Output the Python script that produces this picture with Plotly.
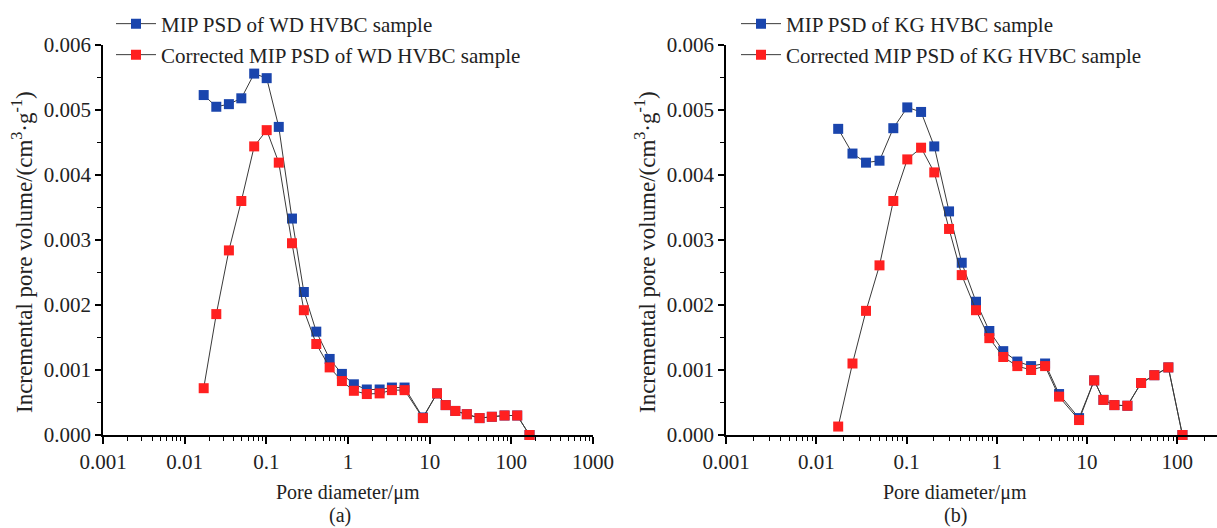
import plotly.graph_objects as go

# ---------------- data ----------------
diam_wd = [0.0171, 0.0244, 0.0348, 0.0494, 0.071, 0.101, 0.142, 0.206, 0.288, 0.409,
           0.596, 0.842, 1.18, 1.70, 2.44, 3.45, 4.93, 8.26,
           12.3, 15.7, 20.6, 28.5, 40.8, 57.7, 82.6, 118, 167]
mip_wd = [0.00523, 0.00505, 0.00509, 0.00518, 0.00556, 0.00549, 0.00474, 0.00333, 0.00220, 0.00159,
          0.00117, 0.00094, 0.00078, 0.00070, 0.00070, 0.00073, 0.00073, 0.00027,
          0.00064, 0.00046, 0.00037, 0.00032, 0.00026, 0.00028, 0.00030, 0.00030, 0.0]
corr_wd = [0.00072, 0.00186, 0.00284, 0.00360, 0.00444, 0.00469, 0.00419, 0.00295, 0.00192, 0.00140,
           0.00104, 0.00083, 0.00068, 0.00063, 0.00064, 0.00069, 0.00069, 0.00026,
           0.00064, 0.00046, 0.00037, 0.00032, 0.00026, 0.00028, 0.00030, 0.00030, 0.0]

diam_kg = [0.0175, 0.0252, 0.0356, 0.0502, 0.0714, 0.102, 0.145, 0.203, 0.296, 0.409,
           0.589, 0.827, 1.18, 1.69, 2.40, 3.43, 4.90, 8.16,
           12.0, 15.2, 20.1, 28.0, 39.7, 55.7, 79.6, 114]
mip_kg = [0.00471, 0.00433, 0.00419, 0.00422, 0.00472, 0.00504, 0.00497, 0.00444, 0.00344, 0.00265,
          0.00205, 0.00160, 0.00129, 0.00113, 0.00106, 0.00110, 0.00063, 0.00026,
          0.00084, 0.00054, 0.00046, 0.00045, 0.00080, 0.00092, 0.00104, 0.0]
corr_kg = [0.00013, 0.00110, 0.00191, 0.00261, 0.00360, 0.00424, 0.00442, 0.00404, 0.00317, 0.00246,
           0.00192, 0.00149, 0.00120, 0.00106, 0.00100, 0.00106, 0.00059, 0.00023,
           0.00084, 0.00054, 0.00046, 0.00045, 0.00080, 0.00092, 0.00104, 0.0]

x_tick_vals = [0.001, 0.01, 0.1, 1, 10, 100, 1000]
x_tick_text = ["0.001", "0.01", "0.1", "1", "10", "100", "1000"]

names_wd = ["MIP PSD of WD HVBC sample", "Corrected MIP PSD of WD HVBC sample"]
names_kg = ["MIP PSD of KG HVBC sample", "Corrected MIP PSD of KG HVBC sample"]

# ---------------- styling ----------------
W, H = 1217, 528
FONT = "Liberation Serif"
TXT = "#222222"
BLUE = "#1a45ad"
RED = "#ff2020"
LINE = "#3a3a3a"

minor_x = [k * 10 ** d for d in range(-3, 3) for k in range(2, 10)]


def px_x(p):
    return p / W


def px_y(p):
    return 1 - p / H


fig = go.Figure()


def add(x, y, name, color, xa, ya, legend):
    fig.add_trace(go.Scatter(
        x=x, y=y, name=name, mode="lines+markers",
        line=dict(color=LINE, width=1),
        marker=dict(symbol="square", size=10, color=color, line=dict(width=0)),
        xaxis=xa, yaxis=ya, legend=legend, cliponaxis=False,
    ))


add(diam_wd, mip_wd, names_wd[0], BLUE, "x", "y", "legend")
add(diam_wd, corr_wd, names_wd[1], RED, "x", "y", "legend2")
add(diam_kg, mip_kg, names_kg[0], BLUE, "x2", "y2", "legend3")
add(diam_kg, corr_kg, names_kg[1], RED, "x2", "y2", "legend4")

y_dom = [px_y(435), px_y(45)]

xcommon = dict(
    type="log", showgrid=False, zeroline=False,
    showline=True, linecolor="black", linewidth=1.5,
    ticks="outside", ticklen=7, tickwidth=1.5, tickcolor="black",
    tickvals=x_tick_vals, ticktext=x_tick_text,
    tickfont=dict(family=FONT, size=21, color=TXT),
    minor=dict(tickvals=minor_x, ticks="outside", ticklen=4, tickwidth=1, tickcolor="black"),
)
ycommon = dict(
    range=[0, 0.006], showgrid=False, zeroline=False,
    showline=True, linecolor="black", linewidth=1.5,
    ticks="outside", ticklen=6, tickwidth=1.5, tickcolor="black",
    tickvals=[0, 0.001, 0.002, 0.003, 0.004, 0.005, 0.006], tickformat=".3f",
    tickfont=dict(family=FONT, size=21, color=TXT),
    minor=dict(dtick=0.0005, ticks="outside", ticklen=4, tickwidth=1, tickcolor="black"),
    domain=y_dom,
)


def leg(xp, yp):
    return dict(x=px_x(xp), y=px_y(yp), xanchor="left", yanchor="middle",
                bgcolor="rgba(0,0,0,0)", font=dict(family=FONT, size=21, color=TXT),
                itemwidth=40, tracegroupgap=0)


fig.update_layout(
    width=W, height=H,
    margin=dict(l=0, r=0, t=0, b=0, autoexpand=False),
    paper_bgcolor="white", plot_bgcolor="white",
    font=dict(family=FONT, size=20, color=TXT),
    xaxis=dict(xcommon, domain=[px_x(103), px_x(593)], range=[-3, 3], anchor="y"),
    yaxis=dict(ycommon, anchor="x"),
    xaxis2=dict(xcommon, domain=[px_x(726), 1.0], range=[-3, 2.44], anchor="y2"),
    yaxis2=dict(ycommon, anchor="x2"),
    legend=leg(111, 24),
    legend2=leg(111, 55),
    legend3=leg(736, 24),
    legend4=leg(736, 55),
    showlegend=True,
)

ann = []
ylab = "Incremental pore volume/(cm<sup>3</sup>·g<sup>-1</sup>)"
for xc, xl, yl_x, letter in [(348, 340, 22, "(a)"), (955, 955, 645, "(b)")]:
    ann.append(dict(text="Pore diameter/μm", x=px_x(xc), y=px_y(492), xref="paper", yref="paper",
                    xanchor="center", yanchor="middle", showarrow=False,
                    font=dict(family=FONT, size=20, color=TXT)))
    ann.append(dict(text=letter, x=px_x(xl), y=px_y(515), xref="paper", yref="paper",
                    xanchor="center", yanchor="middle", showarrow=False,
                    font=dict(family=FONT, size=20, color=TXT)))
    ann.append(dict(text=ylab, x=px_x(yl_x), y=px_y(252), xref="paper", yref="paper",
                    xanchor="center", yanchor="middle", textangle=-90, showarrow=False,
                    font=dict(family=FONT, size=23, color=TXT)))
fig.update_layout(annotations=ann)

fig.write_html("out.html")
